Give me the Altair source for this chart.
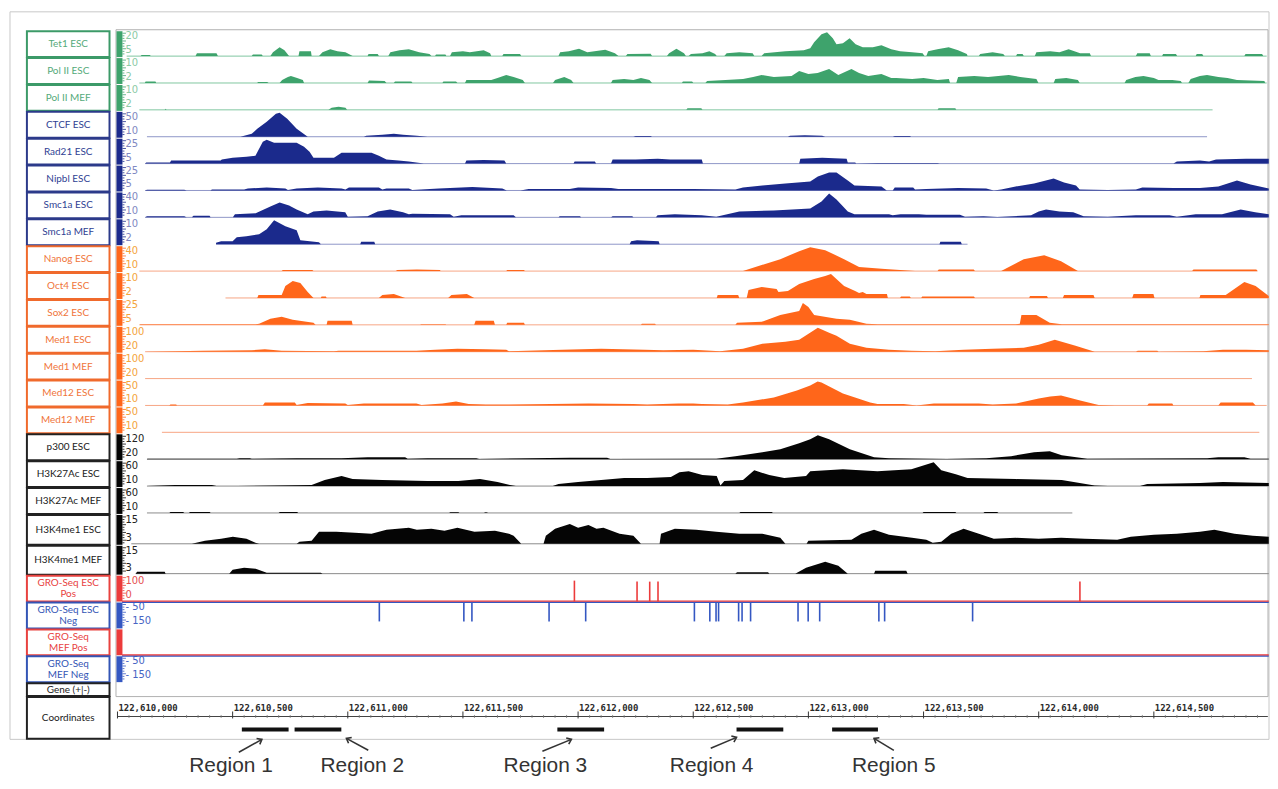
import altair as alt
import pandas as pd
import numpy as np

# ======================= DATA =======================
G0 = 122610000  # genomic position of the window's left edge (bp)

TRACK_NAMES = ["Tet1 ESC", "Pol II ESC", "Pol II MEF", "CTCF ESC", "Rad21 ESC", "Nipbl ESC",
               "Smc1a ESC", "Smc1a MEF", "Nanog ESC", "Oct4 ESC", "Sox2 ESC", "Med1 ESC",
               "Med1 MEF", "Med12 ESC", "Med12 MEF", "p300 ESC", "H3K27Ac ESC", "H3K27Ac MEF",
               "H3K4me1 ESC", "H3K4me1 MEF"]
SCALE_TOP = ["20", "10", "10", "50", "25", "25", "40", "10", "40", "10", "25", "100", "100",
             "50", "50", "120", "60", "60", "15", "15"]
SCALE_LOW = ["5", "2", "2", "10", "5", "5", "10", "2", "10", "2", "5", "20", "20",
             "10", "10", "20", "10", "10", "3", "3"]
# covered extent of every track (bp offset from G0)
TRACK_START = [40, 95, 95, 128, 120, 120, 120, 428, 95, 469, 95, 120, 120, 120, 193, 128, 128, 128, 60, 79]
TRACK_END = [4990, 4990, 4755, 4731, 4999, 4999, 4999, 3691, 4950, 4999, 4999, 4999, 4926, 4990,
             4958, 4999, 4999, 4146, 4999, 4999]

# signal profiles: (bp offset, relative signal 0-24)
TET1 = [(100,0),(105,1),(140,1),(145,0),(339,0),(345,3),(430,3),(436,0),(583,0),(588,1.5),(626,1.5),(631,0),
        (664,0),(675,4),(704,9),(725,6),(745,0),(786,0),(790,5),(840,5),(843,0),(875,0),(890,4),(924,7),(955,5),
        (990,4),(1021,0),(1086,0),(1090,2),(1130,2),(1135,0),(1176,0),(1185,4),(1225,6),(1265,7),(1310,4),(1355,2),
        (1363,0),(1379,0),(1383,1.5),(1424,1.5),(1428,0),(1444,0),(1452,4),(1500,5),(1530,4),(1590,6),(1618,3),
        (1623,0),(1671,0),(1676,2),(1748,2),(1753,0),(1915,0),(1922,4),(1960,5),(2004,7.5),(2040,4),(2118,6.5),
        (2160,3),(2175,0),(2208,0),(2214,2),(2315,2.5),(2321,0),(2386,0),(2395,3),(2427,7.5),(2460,3),(2468,0),
        (2480,0),(2490,2),(2540,3),(2570,5),(2595,2),(2602,0),(2635,0),(2645,3),(2700,4),(2758,3),(2765,0),
        (2797,0),(2808,3),(2900,5),(2980,6),(3008,8),(3025,14),(3057,22),(3081,24),(3106,18),(3122,12),(3150,13),
        (3179,18),(3205,12),(3236,9),(3280,9),(3317,11),(3360,7),(3398,5),(3450,4),(3496,3),(3504,0),(3512,0),
        (3520,5),(3560,7),(3609,9),(3650,6),(3688,2),(3691,0),(3740,0),(3746,2),(3800,4),(3846,2),(3853,0),
        (3902,0),(3906,2),(3930,2),(3935,0),(3983,0),(3990,4),(4050,5),(4090,4),(4130,7),(4180,3),(4222,3),
        (4227,0),(4422,0),(4428,3),(4482,3),(4487,0),(4536,0),(4540,2),(4596,2),(4601,0),(4682,0),(4686,2),
        (4710,2),(4715,0),(4893,0),(4898,2),(4970,2),(4975,0)]
POL2_ESC = [(119,0),(122,1.5),(165,1.5),(168,0),(607,0),(610,1),(650,1),(656,0),(704,0),(715,3),(740,6),(753,7),
            (780,5),(805,3),(810,0),(1086,0),(1092,2.5),(1160,2),(1168,0),(1200,0),(1205,1.5),(1276,1.5),(1281,0),
            (1411,0),(1415,1.5),(1470,1.5),(1476,0),(1509,0),(1515,3),(1606,3),(1623,3),(1650,5),(1688,8),
            (1720,6),(1760,3),(1769,0),(1891,0),(1900,3),(1940,6),(1970,3),(1980,0),(2143,0),(2150,3),(2200,4),
            (2240,3),(2273,5),(2310,3),(2321,0),(2451,0),(2455,1.5),(2495,1.5),(2500,0),(2553,0),(2560,2),
            (2640,3),(2716,4),(2760,6),(2797,8),(2850,6),(2927,7),(2960,12),(3000,9),(3040,10),(3090,14),
            (3130,8),(3187,14),(3220,10),(3260,7),(3317,9),(3360,5),(3382,5),(3450,4),(3500,5),(3560,3),
            (3610,4),(3615,0),(3642,0),(3650,6),(3720,7),(3780,6),(3870,8),(3920,6),(3990,4),(3999,0),(4065,0),
            (4072,4),(4120,5),(4170,3),(4178,0),(4373,0),(4380,3),(4420,6),(4455,7),(4500,5),(4520,3),(4580,3),
            (4617,2),(4622,0),(4650,0),(4660,4),(4700,7),(4731,8),(4780,6),(4820,5),(4861,3),(4980,2),(4983,0)]
POL2_MEF = [(205,0),(209,1),(213,0),(916,0),(930,2),(960,3),(990,2),(997,0),(2470,0),(2475,1.5),(2535,1.5),
            (2540,0),(3561,0),(3565,1.5),(3638,1.5),(3642,0)]
CTCF = [(534,0),(583,3),(607,8),(648,15),(688,23),(704,24),(737,18),(778,8),(826,0),(1070,0),(1080,1),(1150,2),
        (1200,3),(1240,2),(1300,1),(1346,0),(2240,0),(2250,0.7),(2315,0.7),(2321,0),(2911,0),(2920,1),(2984,1.5),
        (3060,1),(3073,0),(3366,0),(3375,0.8),(3440,0.8),(3447,0)]
RAD21 = [(120,0),(125,1),(228,1),(233,3),(300,3),(448,3),(453,4),(500,6),(560,7),(599,8),(615,15),(631,22),
         (648,24),(680,21),(713,21),(778,21),(810,17),(834,12),(851,6),(900,6),(940,6),(973,11),(1040,11),
         (1103,11),(1135,8),(1168,4),(1220,3),(1265,2),(1314,0.5),(1330,0),(1509,0),(1515,3),(1590,3.5),
         (1680,3),(1688,0),(1980,0),(1985,2),(2073,2),(2078,0),(2143,0),(2150,4),(2250,4),(2346,5),(2400,4),
         (2537,4),(2542,0),(2960,0),(2965,5),(3060,6),(3166,5),(3171,1),(3203,1),(3208,0),(3300,0.5),
         (3560,0.5),(3570,0),(4585,0),(4600,2),(4700,3),(4740,2),(4770,4),(4900,5),(4999,5)]
NIPBL = [(120,0),(128,0.8),(290,0.8),(300,0),(404,0),(410,1),(550,1),(566,2),(648,3),(729,2),(740,0.5),(778,2),
         (870,3),(973,2),(990,1),(1005,3),(1135,3),(1150,1),(1168,2),(1265,2),(1280,0.5),(1395,2),(1541,3.5),
         (1671,2),(1690,0),(1750,0),(1785,1.5),(1964,1.5),(2000,3),(2143,2.5),(2175,1.5),(2500,1.5),(2683,1),
         (2716,3),(2800,5),(2900,7),(3008,9),(3041,14),(3090,18),(3122,18),(3171,10),(3200,5),(3317,4),
         (3340,0),(3366,0),(3375,3),(3455,3),(3463,1),(3512,1.5),(3650,2.5),(3772,2),(3805,0),(3837,1),
         (3900,4),(3980,7),(4065,12),(4110,8),(4162,5),(4178,1),(4300,0.5),(4422,1),(4450,3),(4585,2.5),
         (4700,2.5),(4780,4),(4861,10),(4920,6),(4999,2)]
SMC1A_ESC = [(120,0),(128,1),(290,1),(300,0),(323,0),(330,1.5),(400,1.5),(404,0),(501,0),(510,3),(600,4),
             (664,11),(704,15),(745,12),(778,8),(826,3),(851,6),(908,7),(989,5),(1000,0.5),(1086,1),(1130,6),
             (1184,8),(1240,5),(1265,3),(1281,3.5),(1444,3),(1460,0.5),(1493,2),(1720,2),(1730,0),(1915,0),
             (1920,1),(2008,1),(2013,0),(2143,0),(2150,1),(2235,1),(2240,0),(2338,0),(2345,2),(2420,3),
             (2537,2),(2600,0.5),(2700,6),(2850,7),(3008,9),(3057,16),(3090,24),(3122,18),(3171,6),(3200,3),
             (3350,3),(3366,2),(3400,3),(3480,3),(3512,2.5),(3658,2.5),(3680,0.5),(3760,1),(3820,0.3),
             (3967,2),(4000,6),(4032,8),(4090,6),(4150,5),(4195,1),(4300,0.5),(4422,2),(4568,2),(4600,0.5),
             (4682,3),(4796,3),(4877,8),(4940,5),(4999,3)]
SMC1A_MEF = [(428,1.5),(450,3),(500,3),(518,7),(560,8),(615,10),(648,15),(680,24),(729,18),(778,14),(794,4),
             (875,2),(883,0),(1054,0),(1058,2.5),(1115,2.5),(1119,0),(2224,0),(2230,3),(2256,4),(2350,3),
             (2354,0),(3569,0),(3573,2.5),(3662,2.5),(3666,0)]
NANOG = [(713,0),(718,1),(846,1),(851,0),(1208,0),(1215,1),(1300,1.5),(1400,1),(1403,0),(1688,0),(1692,1),
         (1765,1),(1769,0),(2716,0),(2797,6),(2878,12),(2960,20),(3008,24),(3073,21),(3155,12),(3220,4),
         (3333,2),(3463,0),(3561,0),(3566,1.5),(3718,1.5),(3723,0),(3837,0),(3935,12),(4024,16),(4097,10),
         (4170,0),(4666,0),(4672,1.5),(4945,1.5),(4950,0)]
OCT4 = [(607,0),(612,3),(713,3),(729,12),(761,17),(794,15),(826,6),(851,0),(883,0),(886,1.5),(905,1.5),
        (908,0),(1135,0),(1150,3),(1200,4),(1249,0),(1436,0),(1450,3),(1517,4),(1549,0),(2602,0),(2606,3),
        (2695,3),(2700,0),(2732,0),(2740,8),(2797,11),(2862,9),(2870,6),(2911,7),(2960,14),(3025,19),
        (3073,22),(3098,24),(3155,12),(3203,7),(3220,5),(3236,6),(3252,4),(3341,4),(3345,0),(3398,0),
        (3402,1.5),(3440,1.5),(3445,0),(3490,0),(3494,1.5),(3719,1.5),(3723,0),(3959,0),(3962,2),(4036,2),
        (4040,0),(4105,0),(4110,3),(4238,3),(4243,0),(4406,0),(4412,4),(4498,4),(4503,0),(4698,0),(4702,3),
        (4812,3),(4893,16),(4942,12),(4999,2)]
SOX2 = [(95,0),(100,0.5),(600,0.5),(615,1),(664,6),(713,8),(761,5),(851,2),(860,0),(908,0),(912,4),(1017,4),
        (1021,0),(1314,0),(1318,0.5),(1424,0.5),(1428,0),(1549,0),(1555,4),(1634,4),(1639,0),(1688,0),
        (1692,2),(1765,2),(1769,0),(2273,0),(2277,1),(2334,1),(2338,0),(2683,0),(2690,2),(2797,3),(2878,10),
        (2960,14),(2976,22),(3000,18),(3025,10),(3122,6),(3180,5),(3252,1),(3300,0.5),(3900,0.5),(3918,1),
        (3925,10),(3990,10),(4048,2),(4100,0.5),(4999,0.5)]
MED1_ESC = [(120,0),(250,0.5),(371,1),(583,1.5),(640,2.5),(713,1),(940,0.5),(960,1),(1070,1),(1168,1),
            (1298,1),(1379,2),(1476,3),(1600,2.5),(1688,2),(1700,0.5),(1931,2),(2100,3),(2289,2),(2370,1.5),
            (2500,2),(2616,0.5),(2716,3),(2800,8),(2900,10),(2960,12),(3041,24),(3090,19),(3122,16),(3180,8),
            (3252,4),(3350,2),(3447,1),(3550,0.5),(3674,2),(3800,3),(3935,4),(4000,7),(4070,12),(4160,6),
            (4243,0),(4422,0),(4430,1),(4515,1),(4520,0),(4715,0.5),(4800,2),(4900,2),(4999,1.5)]
MED1_MEF = [(120,0),(4926,0)]
MED12_ESC = [(120,0),(225,0),(230,1),(255,1),(258,0),(631,0),(640,3),(770,3),(778,0.5),(826,2.5),(989,2),
             (1000,0.5),(1070,2),(1298,2),(1320,0.5),(1411,2),(1470,4),(1525,1.5),(1600,1),(1700,1),(1883,1.5),
             (2045,2),(2240,1.5),(2300,1),(2435,2),(2500,2),(2537,1.5),(2650,1),(2716,3),(2850,8),(2950,15),
             (3008,20),(3040,24),(3057,23),(3150,12),(3268,3),(3300,1.5),(3414,1.5),(3470,0),(3545,2),(3740,2),
             (3800,1),(3902,2),(4000,7),(4050,9),(4097,10),(4180,5),(4260,0.5),(4330,0),(4471,0),(4478,2),
             (4580,2),(4585,0),(4780,0),(4790,3),(4930,3),(4942,0)]
MED12_MEF = [(193,0),(4958,0)]
P300 = [(128,0),(130,0.5),(518,0.5),(530,1),(575,1),(583,0.5),(778,1),(956,1),(973,1),(1086,2),(1249,2),
        (1260,0.5),(1346,1),(1558,1),(1570,0.3),(1964,1.5),(2126,1.5),(2140,0.3),(2600,0.5),(2683,3),
        (2800,7),(2878,10),(2960,16),(3008,20),(3041,24),(3090,20),(3180,10),(3285,2),(3350,1),(3600,0.3),
        (3772,1),(3880,3),(3980,7),(4048,8),(4100,4),(4211,0.5),(4731,1),(4780,2),(4893,2),(4920,0.5),
        (4999,0.5)]
H3K27AC_ESC = [(128,0),(250,1),(410,1),(430,0),(520,0),(843,1),(900,6),(973,10),(1021,7),(1150,6),(1346,5),
               (1480,5),(1574,7),(1650,4),(1704,1),(1730,0),(1890,0),(1915,2),(2000,4),(2100,6),(2200,8),
               (2300,8),(2403,9),(2440,14),(2480,15),(2540,11),(2602,10),(2618,0.5),(2635,5),(2716,6),
               (2765,16),(2830,11),(2895,8),(2990,10),(3008,15),(3150,17),(3300,15),(3447,17),(3544,24),
               (3577,16),(3640,12),(3691,8),(3900,7),(4100,6),(4243,0.5),(4300,0),(4440,0),(4471,2),
               (4700,3),(4800,4),(4999,3)]
H3K27AC_MEF = [(128,0),(225,0),(230,1),(285,1),(290,0),(310,0),(315,1),(400,1),(405,0),(700,0),(705,1),
               (780,1),(785,0),(1440,0),(1445,0.8),(1480,0.8),(1485,0),(1590,0),(1600,0.8),(1610,0),
               (2700,0),(2705,1),(2841,1),(2846,0),(3496,0),(3500,1),(3638,1),(3642,0),(3760,0),(3765,1),
               (3820,1),(3825,0)]
H3K4ME1_ESC = [(60,0),(323,0),(380,3),(450,5),(501,7),(560,5),(599,1),(615,0),(778,0),(790,2),(843,3),
               (875,12),(950,12),(1030,11),(1103,10),(1168,14),(1265,16),(1300,14),(1363,15),(1420,13),
               (1476,16),(1550,12),(1639,13),(1700,10),(1720,8),(1753,0),(1850,0),(1860,8),(1900,15),
               (1964,20),(2000,16),(2045,19),(2080,15),(2110,16),(2180,10),(2240,8),(2273,0),(2354,0),
               (2360,10),(2420,15),(2513,14),(2600,12),(2700,10),(2800,10),(2878,6),(2900,0),(2992,0),
               (3000,3),(3187,4),(3230,10),(3285,14),(3350,9),(3450,6),(3512,4),(3540,1),(3577,2),(3620,10),
               (3674,15),(3740,10),(3805,5),(3900,6),(4000,5),(4097,6),(4200,5),(4341,4),(4400,7),(4500,9),
               (4600,10),(4700,12),(4763,14),(4850,10),(4930,8),(4999,7)]
H3K4ME1_MEF = [(79,0),(85,2),(205,2),(209,0),(485,0),(500,4),(550,6),(600,5),(648,1),(883,1),(890,0),
               (2683,0),(2690,1.5),(2825,1.5),(2830,0),(2943,0),(2990,6),(3073,12),(3130,8),(3171,0),
               (3285,0),(3290,3),(3425,3),(3431,0)]
PROFILES = [TET1, POL2_ESC, POL2_MEF, CTCF, RAD21, NIPBL, SMC1A_ESC, SMC1A_MEF, NANOG, OCT4, SOX2,
            MED1_ESC, MED1_MEF, MED12_ESC, MED12_MEF, P300, H3K27AC_ESC, H3K27AC_MEF, H3K4ME1_ESC,
            H3K4ME1_MEF]

# GRO-Seq reads (bp offset, relative height)
GRO_ESC_POS_X = [1984, 2256, 2311, 2347, 4179]
GRO_ESC_POS_V = [21, 20, 20, 20, 20]
GRO_ESC_NEG_X = [1137, 1504, 1539, 1874, 2033, 2505, 2572, 2599, 2610, 2697, 2712, 2749, 2955, 2999,
                 3049, 3306, 3331, 3713]
GRO_ESC_NEG_V = [19, 19, 19, 19, 19, 19, 19, 19, 19, 19, 19, 19, 19, 19, 19, 19, 19, 19]
GRO_LABELS = ["GRO-Seq ESC\nPos", "GRO-Seq ESC\nNeg", "GRO-Seq\nMEF Pos", "GRO-Seq\nMEF Neg"]
GRO_SCALE_TOP = ["100", "- 50", "", "- 50"]
GRO_SCALE_LOW = ["0", "- 150", "", "- 150"]

# coordinate ruler
TICK_OFFSETS = [0, 500, 1000, 1500, 2000, 2500, 3000, 3500, 4000, 4500]

# highlighted regions
REGION_NAMES = ["Region 1", "Region 2", "Region 3", "Region 4", "Region 5"]
REGION_START = [540, 769, 1910, 2688, 3103]
REGION_END = [743, 972, 2113, 2891, 3302]
REGION_TEXT_X = [493, 1063, 1858, 2580, 3371]
ARROW_TAIL_X = [527, 1089, 1845, 2576, 3371]
ARROW_HEAD_X = [627, 994, 1971, 2688, 3285]

# ======================= LAYOUT / STYLE =======================
W, H = 1268, 775
PX_PER_BP = 115.7 / 500.0
X0 = 110  # plot x of G0


def P(v):  # page pixel -> plot pixel
    return v - 8


ROW_EDGES = [29, 56, 83, 110, 137, 164, 191, 218, 245, 272, 299, 326, 353, 380, 407, 434, 461, 488,
             515, 546, 576, 603, 630, 657, 684, 698, 741]
FAM = (["g"] * 3 + ["b"] * 5 + ["o"] * 7 + ["k"] * 5)
FILL = {"g": "#3ea36c", "b": "#1b2a8c", "o": "#ff661a", "k": "#050505", "r": "#ec3b3b", "u": "#3457c2"}
BASE = {"g": "#80c7a0", "b": "#8f96c8", "o": "#f7a584", "k": "#8a8a8a"}
TXT = {"g": "#55aa7a", "b": "#2f3f93", "o": "#f0753a", "k": "#1a1a1a", "r": "#e8423f", "u": "#3355b5"}
BORDER = {"g": "#3c9a68", "b": "#2c3a8a", "o": "#f06a2c", "k": "#222222", "r": "#e8423f", "u": "#3355b5"}
SCALETXT = {"g": "#8ccaa6", "b": "#8088c2", "o": "#f4a43c", "k": "#222222", "r": "#e65050", "u": "#4665c4"}

GX = alt.Scale(domain=[G0 - X0 / PX_PER_BP, G0 + (W - X0) / PX_PER_BP], nice=False, zero=False)
LX = alt.Scale(domain=[0, W], nice=False, zero=False)
YS = alt.Scale(domain=[0, H], reverse=True, nice=False, zero=False)


def gx(f="x"):
    return alt.X(f"{f}:Q", scale=GX, axis=None)


def lx(f="x"):
    return alt.X(f"{f}:Q", scale=LX, axis=None)


def yy(f="y"):
    return alt.Y(f"{f}:Q", scale=YS, axis=None)


# ----- row table -----
all_labels = TRACK_NAMES + GRO_LABELS + ["Gene (+|-)", "Coordinates"]
all_fam = FAM + ["r", "u", "r", "u", "k", "k"]
rows = []
for i, name in enumerate(all_labels):
    top, bot = ROW_EDGES[i], ROW_EDGES[i + 1] - 1
    mid = P((top + bot) / 2.0) + 0.5
    ty = mid - 5.5 if "\n" in name else mid
    rows.append(dict(name=name, fam=all_fam[i], top=P(top) + 0.5, bot=P(bot) + 0.5,
                     mid=mid, ty=ty, x0=P(27), x1=P(110),
                     tx=P(68.5), border=BORDER[all_fam[i]], txt=TXT[all_fam[i]]))
rows_df = pd.DataFrame(rows)

layers = []

# outer frame and data frame
frames = pd.DataFrame([
    dict(x=P(10), x2=P(1275), y=P(10), y2=P(741), c="#c8c8c8"),
    dict(x=P(116.5), x2=P(1274), y=P(28), y2=P(698), c="#b0b0b0"),
])
layers.append(alt.Chart(frames).mark_rect(fillOpacity=0, strokeWidth=1).encode(
    x=lx(), x2="x2:Q", y=yy(), y2="y2:Q", stroke=alt.Stroke("c:N", scale=None)))

# label boxes
layers.append(alt.Chart(rows_df).mark_rect(fill="white", strokeWidth=2).encode(
    x=lx("x0"), x2="x1:Q", y=yy("top"), y2="bot:Q", stroke=alt.Stroke("border:N", scale=None)))
layers.append(alt.Chart(rows_df).mark_text(font="Lato", fontSize=10, lineBreak="\n",
                                            baseline="middle", lineHeight=11).encode(
    x=lx("tx"), y=yy("ty"), text="name:N", color=alt.Color("txt:N", scale=None)))

# scale bars on the left of each data row (not for gene / coordinate rows)
bars = rows_df.iloc[:24].copy()
bars["bx0"] = P(117)
bars["bx1"] = P(123)
bars["fill"] = [FILL[f] for f in bars["fam"]]
layers.append(alt.Chart(bars).mark_rect(strokeWidth=0).encode(
    x=lx("bx0"), x2="bx1:Q", y=yy("top"), y2="bot:Q", color=alt.Color("fill:N", scale=None)))
# tiny ruler ticks on the bars
tk = []
for _, r in bars.iterrows():
    if r["name"] == "GRO-Seq\nMEF Pos":
        continue
    yv = r["top"] + 2
    k = 0
    while yv < r["bot"] - 1:
        tk.append(dict(x=P(123), x2=P(126.5) if k % 3 == 0 else P(125), y=yv, c=r["fill"]))
        yv += 2.6
        k += 1
layers.append(alt.Chart(pd.DataFrame(tk)).mark_rule(strokeWidth=0.8).encode(
    x=lx(), x2="x2:Q", y=yy(), color=alt.Color("c:N", scale=None)))

# scale labels
sl = []
for i in range(24):
    r = rows[i]
    fam = r["fam"]
    top_t = SCALE_TOP[i] if i < 20 else GRO_SCALE_TOP[i - 20]
    low_t = SCALE_LOW[i] if i < 20 else GRO_SCALE_LOW[i - 20]
    sl.append(dict(x=P(126), y=r["top"] + 5, t=top_t, c=SCALETXT[fam]))
    sl.append(dict(x=P(126), y=r["bot"] - 7, t=low_t, c=SCALETXT[fam]))
layers.append(alt.Chart(pd.DataFrame(sl)).mark_text(font="DejaVu Sans", fontSize=10, align="left",
                                                     baseline="middle").encode(
    x=lx(), y=yy(), text="t:N", color=alt.Color("c:N", scale=None)))

# ----- genomic tracks -----
base_rows, sig_rows = [], []
for i, prof in enumerate(PROFILES):
    fam = FAM[i]
    b = rows[i]["bot"] - 1
    base_rows.append(dict(x=G0 + TRACK_START[i], x2=G0 + TRACK_END[i], y=b, c=BASE[fam]))
    for (o, v) in prof:
        sig_rows.append(dict(track=TRACK_NAMES[i], x=G0 + o, y=b - v, y2=b, c=FILL[fam]))
layers.append(alt.Chart(pd.DataFrame(base_rows)).mark_rule(strokeWidth=1).encode(
    x=gx(), x2="x2:Q", y=yy(), color=alt.Color("c:N", scale=None)))
layers.append(alt.Chart(pd.DataFrame(sig_rows)).mark_area(opacity=1, strokeWidth=0).encode(
    x=gx(), y=yy(), y2="y2:Q", detail="track:N", color=alt.Color("c:N", scale=None)))

# GRO-Seq baselines and reads
esc_line = rows[20]["bot"]
mef_line = rows[22]["bot"]
gl = pd.DataFrame([
    dict(x=G0 + 20, x2=G0 + 4999, y=esc_line + 0.8, c=FILL["u"], w=1.6),
    dict(x=G0 + 20, x2=G0 + 4999, y=esc_line - 0.4, c=FILL["r"], w=1.2),
    dict(x=G0 + 20, x2=G0 + 4999, y=mef_line + 0.8, c=FILL["u"], w=1.6),
    dict(x=G0 + 20, x2=G0 + 4999, y=mef_line - 0.4, c=FILL["r"], w=1.2),
])
layers.append(alt.Chart(gl).mark_rule().encode(
    x=gx(), x2="x2:Q", y=yy(), color=alt.Color("c:N", scale=None),
    strokeWidth=alt.StrokeWidth("w:Q", scale=None)))
spk = [dict(x=G0 + x, y=esc_line, y2=esc_line - v, c=FILL["r"]) for x, v in zip(GRO_ESC_POS_X, GRO_ESC_POS_V)]
spk += [dict(x=G0 + x, y=esc_line + 1, y2=esc_line + 1 + v, c=FILL["u"]) for x, v in zip(GRO_ESC_NEG_X, GRO_ESC_NEG_V)]
layers.append(alt.Chart(pd.DataFrame(spk)).mark_rule(strokeWidth=1.6).encode(
    x=gx(), y=yy(), y2="y2:Q", color=alt.Color("c:N", scale=None)))

# ----- coordinate ruler -----
axis_y = P(718)
layers.append(alt.Chart(pd.DataFrame([dict(x=G0, x2=G0 + 4995, y=axis_y)])).mark_rule(
    color="#444", strokeWidth=1.2).encode(x=gx(), x2="x2:Q", y=yy()))
minor = [dict(x=G0 + m, y=axis_y - 1.5, y2=axis_y + 1.5) for m in range(50, 5000, 50) if m % 500]
layers.append(alt.Chart(pd.DataFrame(minor)).mark_rule(color="#777", strokeWidth=0.8).encode(
    x=gx(), y=yy(), y2="y2:Q"))
major = pd.DataFrame([dict(x=G0 + t, y=axis_y - 5, y2=axis_y + 2, t=f"{G0 + t:,}") for t in TICK_OFFSETS])
layers.append(alt.Chart(major).mark_rule(color="#333", strokeWidth=1).encode(x=gx(), y=yy(), y2="y2:Q"))
layers.append(alt.Chart(major.assign(ty=P(709))).mark_text(
    font="DejaVu Sans Mono", fontSize=9, fontWeight="bold", align="left", baseline="middle",
    dx=1, color="#2a2a2a").encode(x=gx(), y=yy("ty"), text="t:N"))

# ----- highlighted regions -----
reg = pd.DataFrame(dict(x=[G0 + s for s in REGION_START], x2=[G0 + e for e in REGION_END],
                        y=[P(731)] * 5))
layers.append(alt.Chart(reg).mark_rule(color="#111", strokeWidth=4).encode(x=gx(), x2="x2:Q", y=yy()))
rt = pd.DataFrame(dict(x=[G0 + v for v in REGION_TEXT_X], y=[P(768)] * 5, t=REGION_NAMES))
layers.append(alt.Chart(rt).mark_text(font="Liberation Sans", fontSize=21, color="#333",
                                      baseline="middle").encode(x=gx(), y=yy(), text="t:N"))
tail_y = [P(754), P(752), P(753), P(750), P(752)]
head_y = [P(741), P(740), P(741), P(739), P(740)]
arr = []
for i in range(5):
    dxp = (ARROW_HEAD_X[i] - ARROW_TAIL_X[i]) * PX_PER_BP
    dyp = head_y[i] - tail_y[i]
    ang = (np.degrees(np.arctan2(dxp, -dyp)) + 360) % 360
    arr.append(dict(x=G0 + ARROW_TAIL_X[i], x2=G0 + ARROW_HEAD_X[i], y=tail_y[i], y2=head_y[i], a=ang))
arr = pd.DataFrame(arr)
layers.append(alt.Chart(arr).mark_rule(color="#333", strokeWidth=1.6).encode(
    x=gx(), x2="x2:Q", y=yy(), y2="y2:Q"))
layers.append(alt.Chart(arr).mark_point(shape="M -0.7 0.9 L 0 0 L 0.7 0.9", filled=False,
                                        color="#333", strokeWidth=1.6, size=90, opacity=1).encode(
    x=gx("x2"), y=yy("y2"), angle=alt.Angle("a:Q", scale=None)))

chart = alt.layer(*layers).resolve_scale(x="independent").properties(
    width=W, height=H, padding=0, autosize=alt.AutoSizeParams(type="none")
).configure_view(stroke=None)

chart.save("out.html", embed_options={"renderer": "svg", "actions": False})
